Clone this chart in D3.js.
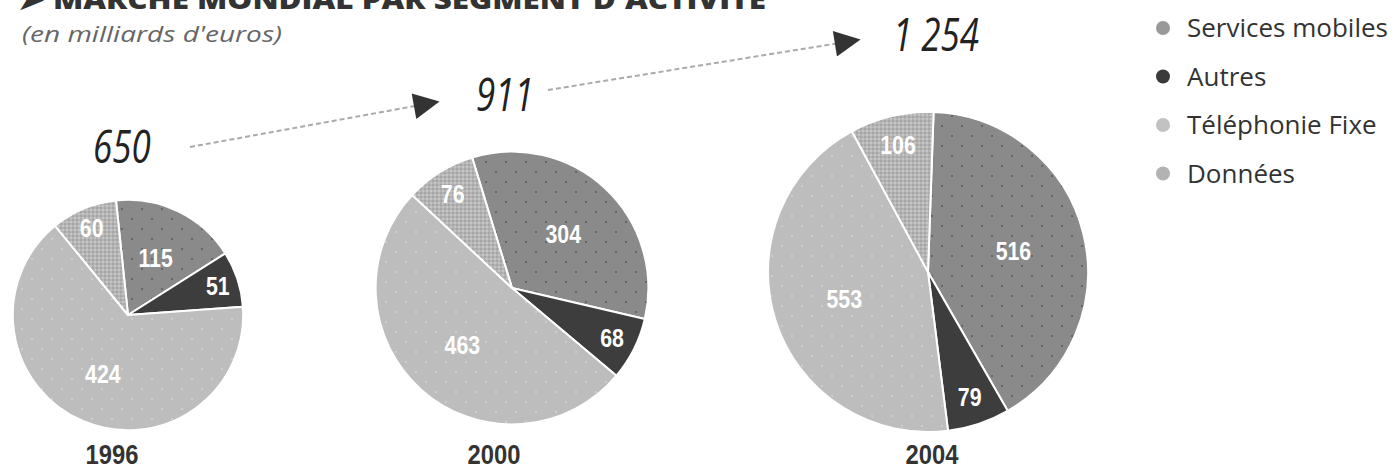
<!DOCTYPE html>
<html><head><meta charset="utf-8">
<script src="https://cdn.jsdelivr.net/npm/d3@7"></script>
<style>body{margin:0;background:#fff;} svg{display:block}</style>
</head><body><svg id="c" width="1398" height="471"></svg>
<script>
// ---- data ----
const categories = ["Services mobiles", "Autres", "Téléphonie Fixe", "Données"];
const years = ["1996", "2000", "2004"];
const values1996 = [115, 51, 424, 60];
const values2000 = [304, 68, 463, 76];
const values2004 = [516, 79, 553, 106];
const totals = [650, 911, 1254];
const totalLabels = ["650", "911", "1 254"];
const title = "➤ MARCHÉ MONDIAL PAR SEGMENT D'ACTIVITÉ";
const subtitle = "(en milliards d'euros)";

// ---- layout ----
const pieCenters = [[128, 315], [512, 288], [928, 272]];
const startDeg = [-6, -17, 2];
const yearX = [112, 494, 932];
const totalPos = [[122, 163], [505, 111], [936, 51]];
const arrows = [[190, 147, 437, 102], [548, 90, 858, 40]];
const fills = ["url(#pMob)", "#3d3d3d", "url(#pFix)", "url(#pDon)"];
const legendColors = ["#999999", "#3a3a3a", "#c2c2c2", "#b3b3b3"];

const svg = d3.select("#c");
const defs = svg.append("defs");
// patterns
const pm = defs.append("pattern").attr("id", "pMob").attr("patternUnits", "userSpaceOnUse").attr("width", 20).attr("height", 20);
pm.append("rect").attr("width", 20).attr("height", 20).attr("fill", "#8a8a8a");
pm.append("rect").attr("x", 3).attr("y", 3).attr("width", 2).attr("height", 2).attr("fill", "#666");
pm.append("rect").attr("x", 13).attr("y", 13).attr("width", 2).attr("height", 2).attr("fill", "#666");
const pf = defs.append("pattern").attr("id", "pFix").attr("patternUnits", "userSpaceOnUse").attr("width", 20).attr("height", 20);
pf.append("rect").attr("width", 20).attr("height", 20).attr("fill", "#bdbdbd");
pf.append("rect").attr("x", 3).attr("y", 3).attr("width", 2).attr("height", 2).attr("fill", "#cdcdcd");
pf.append("rect").attr("x", 13).attr("y", 13).attr("width", 2).attr("height", 2).attr("fill", "#cdcdcd");
const pd = defs.append("pattern").attr("id", "pDon").attr("patternUnits", "userSpaceOnUse").attr("width", 4).attr("height", 4);
pd.append("rect").attr("width", 4).attr("height", 4).attr("fill", "#b4b4b4");
pd.append("rect").attr("width", 2).attr("height", 2).attr("fill", "#a6a6a6");
pd.append("rect").attr("x", 2).attr("y", 2).attr("width", 2).attr("height", 2).attr("fill", "#c4c4c4");
defs.append("marker").attr("id", "arr").attr("viewBox", "0 0 10 10").attr("refX", 9).attr("refY", 5)
  .attr("markerUnits", "userSpaceOnUse").attr("markerWidth", 28).attr("markerHeight", 26).attr("orient", "auto")
  .append("path").attr("d", "M0,0 L10,5 L0,10 Z").attr("fill", "#333");

// title (cropped at the top edge, as in the source image)
svg.append("text").attr("x", 18).attr("y", 9).attr("font-family", "Open Sans, sans-serif").attr("font-weight", 800)
  .attr("font-size", 27).attr("fill", "#333").attr("textLength", 748).attr("lengthAdjust", "spacingAndGlyphs").text(title);
svg.append("text").attr("x", 22).attr("y", 42).attr("font-family", "Open Sans, sans-serif").attr("font-style", "italic")
  .attr("font-size", 22).attr("fill", "#666").attr("textLength", 260).attr("lengthAdjust", "spacingAndGlyphs").text(subtitle);

const r = d3.scaleSqrt().domain([0, d3.max(totals)]).range([0, 160]);
const allValues = [values1996, values2000, values2004];

allValues.forEach((vals, i) => {
  const rad = r(totals[i]);
  const s = startDeg[i] * Math.PI / 180;
  const pie = d3.pie().sort(null).startAngle(s).endAngle(s + 2 * Math.PI);
  const arcs = pie(vals);
  const arc = d3.arc().innerRadius(0).outerRadius(rad);
  const g = svg.append("g").attr("transform", `translate(${pieCenters[i][0]},${pieCenters[i][1]})`);
  g.selectAll("path").data(arcs).join("path").attr("d", arc)
    .attr("fill", (d, j) => fills[j]).attr("stroke", "#fff").attr("stroke-width", 2).attr("stroke-linejoin", "round");
  g.selectAll("text").data(arcs).join("text")
    .attr("transform", d => {
      const small = (d.endAngle - d.startAngle) < 0.7;
      const k = small ? 0.82 : 0.55;
      const a = (d.startAngle + d.endAngle) / 2;
      return `translate(${Math.sin(a) * rad * k},${-Math.cos(a) * rad * k}) scale(0.82,1)`;
    })
    .attr("text-anchor", "middle").attr("dy", "0.36em")
    .attr("font-family", "Liberation Sans, Arial, sans-serif").attr("font-weight", "bold")
    .attr("font-size", 26).attr("fill", "#fff").text(d => d.data);
  svg.append("text").attr("transform", `translate(${yearX[i]},464) scale(0.85,1)`).attr("text-anchor", "middle")
    .attr("font-family", "Liberation Sans, Arial, sans-serif").attr("font-weight", "bold")
    .attr("font-size", 28).attr("fill", "#333").text(years[i]);
  svg.append("text").attr("transform", `translate(${totalPos[i][0]},${totalPos[i][1]}) scale(0.76,1)`)
    .attr("text-anchor", "middle")
    .attr("font-family", "Open Sans, sans-serif").attr("font-style", "italic").attr("font-weight", 400)
    .attr("font-size", 46).attr("fill", "#222").text(totalLabels[i]);
});

arrows.forEach(a => {
  svg.append("line").attr("x1", a[0]).attr("y1", a[1]).attr("x2", a[2]).attr("y2", a[3])
    .attr("stroke", "#aaa").attr("stroke-width", 2).attr("stroke-dasharray", "5 3")
    .attr("marker-end", "url(#arr)");
});

// legend
const lg = svg.append("g").attr("transform", "translate(1163,0)");
const rows = lg.selectAll("g").data(categories).join("g").attr("transform", (d, i) => `translate(0,${28 + i * 48.5})`);
rows.append("circle").attr("r", 7).attr("fill", (d, i) => legendColors[i]);
rows.append("text").attr("x", 24).attr("dy", "0.35em").attr("font-family", "Open Sans, sans-serif")
  .attr("font-size", 26).attr("fill", "#333").text(d => d);
</script>
</body></html>
